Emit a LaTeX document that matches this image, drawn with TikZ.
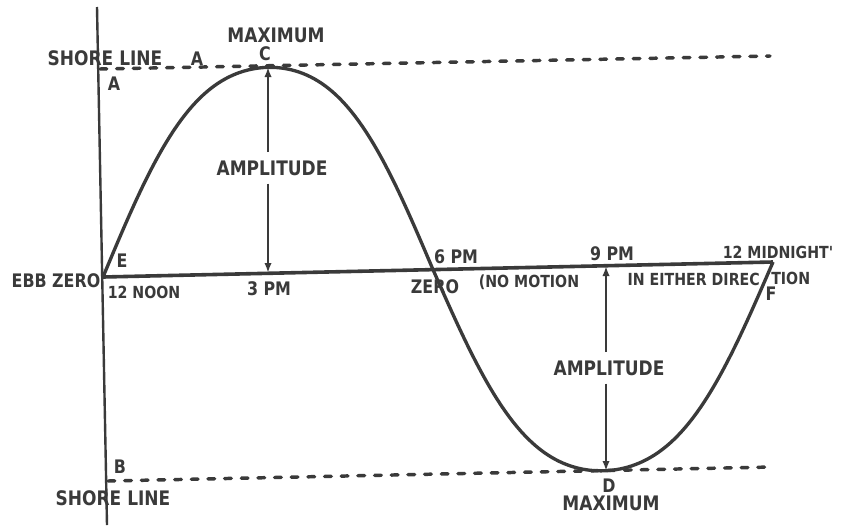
\documentclass[tikz,border=0pt]{standalone}
\usepackage{fontspec}
\newfontfamily\lettering[FakeStretch=0.85]{DejaVu Sans}
\usetikzlibrary{arrows.meta}
\definecolor{ink}{HTML}{3A3A3A}

\begin{document}
\begin{tikzpicture}[x=0.75pt,y=-0.75pt,
  lbl/.style={text=ink,inner sep=0pt,anchor=base,font=\lettering\bfseries\fontsize{14}{16}\selectfont},
  lblbig/.style={lbl,font=\lettering\bfseries\fontsize{15}{17}\selectfont},
  lblsmall/.style={lbl,font=\lettering\bfseries\fontsize{12.5}{14}\selectfont},
  shore/.style={draw=ink,line width=2.6pt,dash pattern=on 5pt off 7.5pt,line cap=round},
  amp/.style={draw=ink,line width=1.7pt,shorten <=6pt,-{Latex[length=7.5pt,width=5.5pt]}}]
\useasboundingbox (0,0) rectangle (841,525);
% axis, shore lines and ebb zero line
\coordinate (axtop) at (97,7);
\coordinate (axbot) at (107,525);
\coordinate (shoreA) at (100,69);
\coordinate (shoreAend) at (770,56);
\coordinate (shoreB) at (108,481);
\coordinate (shoreBend) at (772,467);
\coordinate (ptE) at (103,277);
\coordinate (ptF) at (773,262);
\coordinate (ptC) at (268,67);
\coordinate (ptD) at (606,471);
\coordinate (pm3) at (268,273);
\coordinate (pm9) at (606,266);
\draw[ink,line width=1.8pt] (axtop) -- (axbot);
\draw[shore] (shoreA) -- (shoreAend);
\draw[shore] (shoreB) -- (shoreBend);
\draw[ink,line width=2.7pt] (ptE) -- (ptF);
% tide curve
\draw[ink,line width=2.5pt,line join=round]
  plot[domain=103:433,samples=90] (\x,{277-0.02239*(\x-103)-216.8*(sin(0.54545*(\x-103))+0.05*sin(1.63636*(\x-103)))})
  -- plot[domain=433:773,samples=90] (\x,{277-0.02239*(\x-103)+215.8*(sin(0.52941*(\x-433))+0.05*sin(1.58824*(\x-433)))});
% amplitudes
\node[lblbig] (amp1) at (272,175) {AMPLITUDE};
\node[lblbig] (amp2) at (609,375) {AMPLITUDE};
\draw[amp] (amp1.north -| ptC) -- (ptC);
\draw[amp] (amp1.south -| pm3) -- (pm3);
\draw[amp] (amp2.north -| pm9) -- (pm9);
\draw[amp] (amp2.south -| ptD) -- (ptD);
% labels
\node[lblbig] (maxC) at (276,42) {MAXIMUM};
\node[lbl] (labC) at (265,60) {C};
\node[lblbig] (shoreAlab) at (105,65) {SHORE LINE};
\node[lbl] (labAtop) at (197,65) {A};
\node[lbl] (labA) at (114,90) {A};
\node[lbl] (labE) at (122,267) {E};
\node[lbl] (ebb) at (56,287) {EBB ZERO};
\node[lblsmall] (noon) at (144,298) {12 NOON};
\node[lbl] (three) at (269,295) {3 PM};
\node[lbl] (six) at (456,263) {6 PM};
\node[lbl] (zero) at (435,293) {ZERO};
\node[lblsmall] (nomotion) at (529,287) {(NO MOTION};
\node[lblsmall,anchor=base east] (either) at (760,285) {IN EITHER DIREC};
\node[lblsmall,anchor=base west] (tion) at (771,284) {TION};
\node[lbl] (nine) at (612,260) {9 PM};
\node[lblsmall] (midnight) at (778,258) {12 MIDNIGHT'};
\node[lbl] (labF) at (771,300) {F};
\node[lbl] (labB) at (120,473) {B};
\node[lblbig] (shoreBlab) at (113,505) {SHORE LINE};
\node[lbl] (labD) at (609,492) {D};
\node[lblbig] (maxD) at (611,510) {MAXIMUM};
\end{tikzpicture}
\end{document}
